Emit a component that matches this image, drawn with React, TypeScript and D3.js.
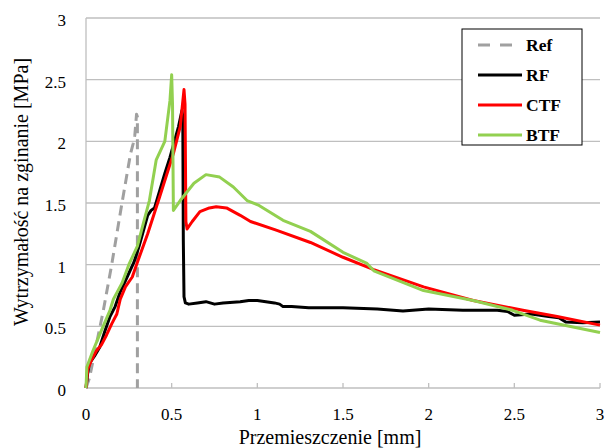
import React from "react";
import * as d3 from "d3";

const xTicks = [0, 0.5, 1, 1.5, 2, 2.5, 3];
const yTicks = [0, 0.5, 1, 1.5, 2, 2.5, 3];
const xTickLabels = ["0", "0.5", "1", "1.5", "2", "2.5", "3"];
const yTickLabels = ["0", "0.5", "1", "1.5", "2", "2.5", "3"];

const refData: [number, number][] = [
  [0, 0], [0.02, 0.08], [0.06, 0.35], [0.1, 0.62], [0.15, 1.0], [0.21, 1.5],
  [0.26, 1.9], [0.275, 1.98], [0.285, 2.05], [0.295, 2.22], [0.3, 2.2], [0.3, 0],
];
const rfData: [number, number][] = [
  [0, 0], [0.01, 0.12], [0.02, 0.2], [0.05, 0.26], [0.08, 0.33], [0.11, 0.46], [0.14, 0.58],
  [0.17, 0.66], [0.2, 0.78], [0.24, 0.9], [0.28, 1.02], [0.31, 1.15], [0.33, 1.25],
  [0.36, 1.4], [0.38, 1.44], [0.4, 1.46], [0.43, 1.6], [0.46, 1.74], [0.49, 1.87],
  [0.52, 2.02], [0.54, 2.12], [0.56, 2.25], [0.565, 2.2], [0.568, 1.2], [0.572, 0.74],
  [0.58, 0.69], [0.6, 0.68], [0.65, 0.69], [0.7, 0.7], [0.75, 0.68], [0.8, 0.69],
  [0.9, 0.7], [0.95, 0.71], [1.0, 0.71], [1.05, 0.7], [1.1, 0.69], [1.13, 0.68],
  [1.15, 0.66], [1.2, 0.66], [1.3, 0.65], [1.5, 0.65], [1.7, 0.64], [1.85, 0.625],
  [2.0, 0.64], [2.2, 0.63], [2.4, 0.63], [2.46, 0.62], [2.5, 0.59], [2.6, 0.6],
  [2.7, 0.58], [2.76, 0.57], [2.8, 0.535], [2.9, 0.53], [3.0, 0.535],
];
const ctfData: [number, number][] = [
  [0, 0], [0.01, 0.15], [0.03, 0.22], [0.06, 0.3], [0.09, 0.35], [0.12, 0.43],
  [0.15, 0.52], [0.18, 0.6], [0.2, 0.72], [0.23, 0.82], [0.27, 0.9], [0.3, 1.02],
  [0.36, 1.25], [0.43, 1.55], [0.51, 1.9], [0.55, 2.12], [0.572, 2.42], [0.578, 2.3],
  [0.583, 1.35], [0.59, 1.29], [0.62, 1.35], [0.665, 1.43], [0.72, 1.46], [0.76, 1.47],
  [0.82, 1.46], [0.9, 1.4], [0.96, 1.35], [1.11, 1.28], [1.31, 1.18], [1.5, 1.06],
  [1.68, 0.96], [1.97, 0.82], [2.26, 0.71], [2.55, 0.63], [2.75, 0.58], [3.0, 0.51],
];
const btfData: [number, number][] = [
  [0, 0], [0.005, 0.17], [0.04, 0.3], [0.1, 0.5], [0.14, 0.63], [0.16, 0.72],
  [0.21, 0.85], [0.25, 1.0], [0.3, 1.15], [0.33, 1.31], [0.37, 1.52], [0.41, 1.85],
  [0.46, 2.0], [0.49, 2.33], [0.5, 2.54], [0.505, 2.3], [0.51, 1.44], [0.55, 1.52],
  [0.63, 1.66], [0.7, 1.73], [0.78, 1.71], [0.86, 1.63], [0.94, 1.52], [1.01, 1.48],
  [1.15, 1.36], [1.31, 1.27], [1.5, 1.1], [1.64, 1.01], [1.68, 0.95], [1.97, 0.79],
  [2.26, 0.71], [2.49, 0.63], [2.65, 0.55], [3.0, 0.45],
];

const seriesNames = ["Ref", "RF", "CTF", "BTF"];
const seriesColors = ["#a0a0a0", "#000000", "#ff0000", "#92d050"];
const seriesData = [refData, rfData, ctfData, btfData];

const W = 605, H = 448;
const M = { left: 86, right: 5, top: 18, bottom: 60 };
const FONT = "Liberation Serif, Times New Roman, DejaVu Serif, serif";
const txt = { fontFamily: FONT };

export default function App() {
  const x = d3.scaleLinear().domain([0, 3]).range([M.left, W - M.right]);
  const y = d3.scaleLinear().domain([0, 3]).range([H - M.bottom, M.top]);
  const line = d3.line<[number, number]>().x((d) => x(d[0])).y((d) => y(d[1]));
  const legX = 462, legY = 29;
  return (
    <svg width={W} height={H} style={{ position: "absolute", left: 0, top: 0, background: "#fff" }}>
      {yTicks.map((t) => (
        t > 0 ? <line key={"g" + t} x1={x(0)} x2={x(3)} y1={y(t)} y2={y(t)} stroke="#bfbfbf" strokeWidth={1.3} /> : null
      ))}
      <line x1={x(0)} x2={x(0)} y1={y(0)} y2={y(3)} stroke="#bfbfbf" strokeWidth={1.3} />
      <line x1={x(0)} x2={x(3)} y1={y(0)} y2={y(0)} stroke="#bfbfbf" strokeWidth={1.3} />
      {xTicks.map((t) => (
        <line key={"xt" + t} x1={x(t)} x2={x(t)} y1={y(0)} y2={y(0) - 5} stroke="#bfbfbf" strokeWidth={1.3} />
      ))}
      {yTicks.map((t, i) => (
        <text key={"yl" + t} x={66} y={y(t) + 2} dy="0.35em" textAnchor="end" fontSize={17} style={txt}>{yTickLabels[i]}</text>
      ))}
      {xTicks.map((t, i) => (
        <text key={"xl" + t} x={x(t)} y={y(0) + 26} dy="0.35em" textAnchor="middle" fontSize={17} style={txt}>{xTickLabels[i]}</text>
      ))}
      <text x={330} y={437} dy="0.35em" textAnchor="middle" fontSize={20} style={txt}>Przemieszczenie [mm]</text>
      <text transform={`translate(21,192) rotate(-90)`} dy="0.35em" textAnchor="middle" fontSize={20} style={txt}>Wytrzymałość na zginanie [MPa]</text>
      {seriesData.map((d, i) => (
        <path key={seriesNames[i]} d={line(d) || ""} fill="none" stroke={seriesColors[i]} strokeWidth={3}
          strokeDasharray={i === 0 ? "10 6" : undefined} strokeLinejoin="round" />
      ))}
      <rect x={legX} y={legY} width={120} height={116} fill="#fff" stroke="#000" strokeWidth={1} />
      {seriesNames.map((n, i) => {
        const cy = legY + 16 + i * 30;
        return (
          <g key={"leg" + n}>
            <line x1={478} x2={522} y1={cy} y2={cy} stroke={seriesColors[i]} strokeWidth={3}
              strokeDasharray={i === 0 ? "12 10" : undefined} />
            <text x={526} y={cy} dy="0.35em" fontSize={17.5} fontWeight="bold" style={txt}>{n}</text>
          </g>
        );
      })}
    </svg>
  );
}
